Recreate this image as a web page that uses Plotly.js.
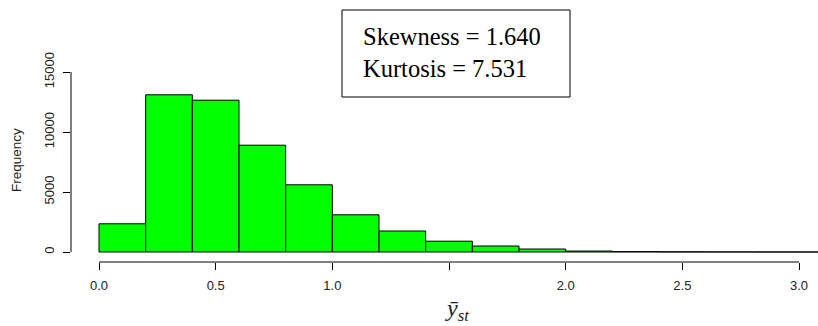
<!DOCTYPE html>
<html>
<head>
<meta charset="utf-8">
<script src="https://cdn.plot.ly/plotly-3.0.1.min.js"></script>
<style>html,body{margin:0;padding:0;background:#fff;}#chart{width:818px;height:326px;}</style>
</head>
<body>
<div id="chart"></div>
<script>
// Histogram bins (left edges, width 0.2) and frequencies
const binStarts = [0.0, 0.2, 0.4, 0.6, 0.8, 1.0, 1.2, 1.4, 1.6, 1.8, 2.0, 2.2, 2.4, 2.6, 2.8, 3.0];
const counts    = [2350, 13100, 12650, 8900, 5600, 3100, 1750, 900, 500, 250, 80, 30, 15, 8, 4, 2];
const binWidth = 0.2;

const xTickVals = [0, 0.5, 1.0, 2.0, 2.5, 3.0];
const xTickText = ['0.0', '0.5', '1.0', '2.0', '2.5', '3.0'];
const xUnlabeledTicks = [1.5];
const yTickVals = [0, 5000, 10000, 15000];
const yTickText = ['0', '5000', '10000', '15000'];

const statLines = ['Skewness = 1.640', 'Kurtosis = 7.531'];

const trace = {
  type: 'bar',
  x: binStarts.map(b => b + binWidth / 2),
  y: counts,
  width: binStarts.map(() => binWidth),
  marker: { color: '#00FF00', line: { color: '#000000', width: 1 } },
  hoverinfo: 'skip'
};

const W = 818, H = 326, ml = 71, mb = 64;
const pw = W - ml, ph = H - mb;
const pxPerX = 700 / 3;            // 0 -> x=99, 3 -> x=799
const xMin = -(99 - ml) / pxPerX;
const xMax = xMin + pw / pxPerX;
const pxPerY = 60 / 5000;          // 0 -> y=252
const yMin = -(ph - 252) / pxPerY;
const yMax = yMin + ph / pxPerY;

const tickFont = { family: 'Liberation Sans, Arial, sans-serif', size: 13, color: '#222' };

const layout = {
  width: W, height: H,
  margin: { l: ml, r: 0, t: 0, b: mb, pad: 0 },
  paper_bgcolor: '#fff', plot_bgcolor: '#fff',
  bargap: 0,
  showlegend: false,
  xaxis: {
    range: [xMin, xMax], showgrid: false, zeroline: false, showline: false,
    tickmode: 'array', tickvals: xTickVals, ticktext: xTickText,
    ticks: 'outside', ticklen: 7, tickwidth: 1, tickcolor: '#000',
    ticklabelstandoff: 4,
    minor: { tickmode: 'array', tickvals: xUnlabeledTicks, ticks: 'outside', ticklen: 7, tickwidth: 1, tickcolor: '#000', showgrid: false },
    tickfont: tickFont, fixedrange: true
  },
  yaxis: {
    range: [yMin, yMax], showgrid: false, zeroline: false, showline: false,
    tickmode: 'array', tickvals: yTickVals, ticktext: yTickText, tickangle: -90,
    ticks: 'outside', ticklen: 7, tickwidth: 1, tickcolor: '#000',
    ticklabelstandoff: 4,
    tickfont: tickFont, fixedrange: true
  },
  shapes: [
    { type: 'line', xref: 'x', yref: 'paper', x0: 0, x1: 3, y0: 0, y1: 0, line: { color: '#000', width: 1 } },
    { type: 'line', xref: 'paper', yref: 'y', x0: 0, x1: 0, y0: yTickVals[0], y1: yTickVals[yTickVals.length - 1], line: { color: '#000', width: 1 } },
    { type: 'rect', xref: 'paper', yref: 'paper',
      x0: (342 - ml) / pw, x1: (570 - ml) / pw, y0: 1 - 97 / ph, y1: 1 - 10 / ph,
      line: { color: '#000', width: 1 }, fillcolor: 'rgba(0,0,0,0)' }
  ],
  annotations: [
    { xref: 'paper', yref: 'paper', x: (361 - ml) / pw, y: 1 - 52 / ph,
      xanchor: 'left', yanchor: 'middle', align: 'left', showarrow: false,
      text: statLines.join('<br>'),
      font: { family: 'Liberation Serif, Times New Roman, serif', size: 24.5, color: '#000' } },
    { xref: 'paper', yref: 'paper', x: 0, y: 1 - 160 / ph, xshift: -55,
      xanchor: 'center', yanchor: 'middle', textangle: -90, showarrow: false,
      text: 'Frequency',
      font: { family: 'Liberation Sans, Arial, sans-serif', size: 13.5, color: '#222' } },
    { xref: 'paper', yref: 'paper', x: (457 - ml) / pw, y: 0, yshift: -48,
      xanchor: 'center', yanchor: 'middle', showarrow: false,
      text: '<i>ȳ</i><sub><i>st</i></sub>',
      font: { family: 'Liberation Serif, Times New Roman, serif', size: 24, color: '#222' } }
  ]
};

Plotly.newPlot('chart', [trace], layout, { staticPlot: true, displayModeBar: false });
</script>
</body>
</html>
